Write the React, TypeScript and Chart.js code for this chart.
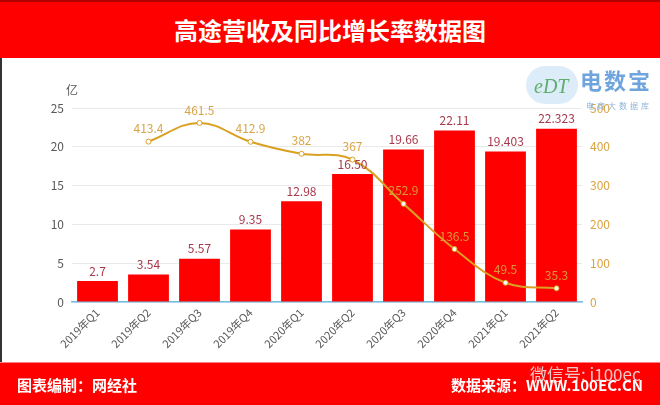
import React, { useEffect, useRef } from "react";
import { Chart, registerables } from "chart.js";

Chart.register(...registerables);

const categories = [
  "2019年Q1", "2019年Q2", "2019年Q3", "2019年Q4",
  "2020年Q1", "2020年Q2", "2020年Q3", "2020年Q4",
  "2021年Q1", "2021年Q2",
];
const revenue = [2.7, 3.54, 5.57, 9.35, 12.98, 16.5, 19.66, 22.11, 19.403, 22.323];
const revenueLabels = ["2.7", "3.54", "5.57", "9.35", "12.98", "16.50", "19.66", "22.11", "19.403", "22.323"];
const growth: (number | null)[] = [null, 413.4, 461.5, 412.9, 382, 367, 252.9, 136.5, 49.5, 35.3];
const leftTicks = [0, 5, 10, 15, 20, 25];
const rightTicks = [0, 100, 200, 300, 400, 500];

const FONT = "'Noto Sans CJK SC', 'Noto Sans', sans-serif";

const labelPlugin = {
  id: "labels",
  afterDatasetsDraw(chart: any) {
    const ctx = chart.ctx;
    ctx.save();
    ctx.textAlign = "center";
    ctx.textBaseline = "bottom";
    // bar labels
    const barMeta = chart.getDatasetMeta(0);
    ctx.font = `12px ${FONT}`;
    ctx.fillStyle = "#A8384A";
    barMeta.data.forEach((el: any, i: number) => {
      ctx.fillText(revenueLabels[i], el.x, el.y - 4);
    });
    // line labels
    const lineMeta = chart.getDatasetMeta(1);
    ctx.fillStyle = "rgba(214,160,60,0.95)";
    lineMeta.data.forEach((el: any, i: number) => {
      const v = growth[i];
      if (v === null || el.skip) return;
      ctx.fillText(String(v), el.x, el.y - 7);
    });
    // unit label
    ctx.font = `12px ${FONT}`;
    ctx.fillStyle = "#595959";
    ctx.textAlign = "left";
    ctx.fillText("亿", chart.chartArea.left - 6, chart.chartArea.top - 12);
    ctx.restore();
  },
};

function ChartBox() {
  const ref = useRef<HTMLCanvasElement | null>(null);
  useEffect(() => {
    if (!ref.current) return;
    const chart = new Chart(ref.current, {
      type: "bar",
      data: {
        labels: categories,
        datasets: [
          {
            type: "bar",
            data: revenue,
            backgroundColor: "#FF0000",
            yAxisID: "y",
            order: 2,
            categoryPercentage: 0.8,
            barPercentage: 1.0,
          },
          {
            type: "line",
            data: growth,
            yAxisID: "y1",
            borderColor: "#D9A021",
            borderWidth: 2,
            tension: 0.4,
            pointRadius: 2.5,
            pointBackgroundColor: "#FFFFFF",
            pointBorderColor: "#D9A021",
            pointBorderWidth: 1,
            order: 1,
            spanGaps: false,
          } as any,
        ],
      },
      options: {
        animation: false,
        responsive: false,
        maintainAspectRatio: false,
        layout: { padding: { top: 50, left: 0, right: 0, bottom: 0 } },
        plugins: { legend: { display: false }, tooltip: { enabled: false }, title: { display: false } },
        scales: {
          x: {
            grid: { display: false, drawTicks: false },
            border: { display: true, color: "#6CC0E4", width: 1.5 },
            ticks: {
              color: "#595959",
              font: { size: 11, family: FONT },
              minRotation: 45,
              maxRotation: 45,
              padding: 4,
            },
            afterFit(scale: any) { scale.height = 60; },
          },
          y: {
            position: "left",
            min: 0,
            max: 25,
            afterBuildTicks(scale: any) { scale.ticks = leftTicks.map((v) => ({ value: v })); },
            grid: { color: "#EAEAEA", drawTicks: false },
            border: { display: false },
            ticks: { color: "#595959", font: { size: 12, family: FONT }, padding: 8 },
            afterFit(scale: any) { scale.width = 72; },
          },
          y1: {
            position: "right",
            min: 0,
            max: 500,
            afterBuildTicks(scale: any) { scale.ticks = rightTicks.map((v) => ({ value: v })); },
            grid: { display: false, drawTicks: false },
            border: { display: false },
            ticks: { color: "#D9A441", font: { size: 12, family: FONT }, padding: 8 },
            afterFit(scale: any) { scale.width = 78; },
          },
        },
      },
      plugins: [labelPlugin],
    });
    return () => chart.destroy();
  }, []);
  return <canvas ref={ref} width={660} height={304} style={{ display: "block", width: 660, height: 304 }} />;
}

export default function App() {
  return (
    <div style={{ position: "absolute", left: 0, top: 0, width: 660, height: 405, background: "#FFFFFF", overflow: "hidden", fontFamily: FONT }}>
      <div style={{ position: "absolute", left: 0, top: 0, width: 660, height: 58, background: "#FF0000", borderTop: "2px solid #B00000", boxSizing: "border-box" }}>
        <div style={{ position: "absolute", left: 0, width: 660, top: 13, textAlign: "center", color: "#FFFFFF", fontSize: 24, fontWeight: 700, lineHeight: "30px", letterSpacing: 0 }}>
          高途营收及同比增长率数据图
        </div>
      </div>
      <div style={{ position: "absolute", left: 0, top: 58, width: 2, height: 304, background: "#333333" }} />
      <div style={{ position: "absolute", left: 0, top: 58 }}>
        <ChartBox />
      </div>
      {/* logo */}
      <div style={{ position: "absolute", left: 526, top: 66, width: 52, height: 38, borderRadius: 20, background: "rgba(120,180,230,0.25)" }} />
      <div style={{ position: "absolute", left: 534, top: 74, color: "#5FAE6E", fontSize: 20, fontStyle: "italic", fontFamily: "'Liberation Serif', serif", lineHeight: "24px" }}>eDT</div>
      <div style={{ position: "absolute", left: 580, top: 66, color: "#6FA5DC", fontSize: 22, fontWeight: 700, lineHeight: "26px", letterSpacing: 2 }}>电数宝</div>
      <div style={{ position: "absolute", left: 586, top: 101, color: "#8FB5DC", fontSize: 8, lineHeight: "10px", letterSpacing: 3 }}>电商大数据库</div>
      {/* footer */}
      <div style={{ position: "absolute", left: 0, top: 362, width: 660, height: 43, background: "#FF0000", borderTop: "1px solid #FF8080", boxSizing: "border-box" }}>
        <div style={{ position: "absolute", left: 17, top: 12, color: "#FFFFFF", fontSize: 15, fontWeight: 700, lineHeight: "20px" }}>图表编制：网经社</div>
        <div style={{ position: "absolute", right: 17, top: 12, color: "#FFFFFF", fontSize: 15, fontWeight: 700, lineHeight: "20px" }}>数据来源：WWW.100EC.CN</div>
        <div style={{ position: "absolute", left: 530, top: 0, color: "rgba(235,235,235,0.85)", fontSize: 17, lineHeight: "22px" }}>微信号: i100ec</div>
      </div>
    </div>
  );
}
